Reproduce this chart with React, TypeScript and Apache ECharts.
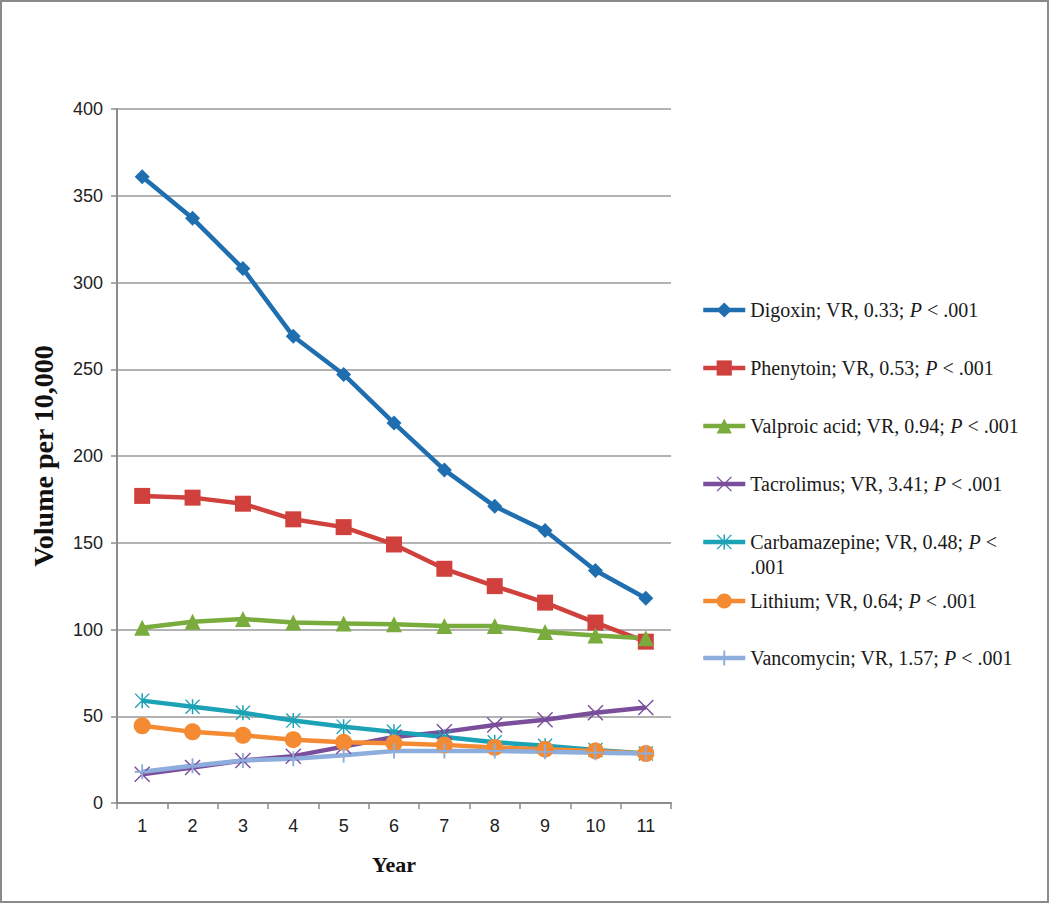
import React, { useEffect, useRef } from "react";
import * as echarts from "echarts";

const years = ["1", "2", "3", "4", "5", "6", "7", "8", "9", "10", "11"];
const yTicks = { min: 0, max: 400, interval: 50 };

const digoxin = [361, 337, 308, 269, 247, 219, 192, 171, 157, 134, 118];
const phenytoin = [177, 176, 172.5, 163.5, 159, 149, 135, 125, 115.5, 104, 93];
const valproic = [101, 104.5, 106, 104, 103.5, 103, 102, 102, 98.5, 96.5, 95];
const tacrolimus = [16.5, 20.5, 24.5, 27, 32.5, 38, 41, 45, 48, 52, 55];
const carbamazepine = [59, 55.5, 52, 47.5, 44, 41, 38, 35, 33, 30.5, 28.5];
const lithium = [44.5, 41, 39, 36.5, 35, 34.5, 33.5, 32, 31, 30, 28.5];
const vancomycin = [18, 21.5, 24.5, 25.5, 27.5, 30, 30, 30, 29.5, 29, 28.5];

const seriesNames = ["Digoxin", "Phenytoin", "Valproic acid", "Tacrolimus", "Carbamazepine", "Lithium", "Vancomycin"];
const legendLabels = [
  "Digoxin; VR, 0.33; {i|P} < .001",
  "Phenytoin; VR, 0.53; {i|P} < .001",
  "Valproic acid; VR, 0.94; {i|P} < .001",
  "Tacrolimus; VR, 3.41; {i|P} < .001",
  "Carbamazepine; VR, 0.48; {i|P} <\n.001",
  "Lithium; VR, 0.64; {i|P} < .001",
  "Vancomycin; VR, 1.57; {i|P} < .001",
];
const seriesData = [digoxin, phenytoin, valproic, tacrolimus, carbamazepine, lithium, vancomycin];
const colors = ["#1F6EB0", "#D0413D", "#79AC3C", "#7A4E9B", "#1BA2B6", "#F48A32", "#8DAEDC"];

const X_PATH = "path://M-7,-8 L8,7 L7,8 L-8,-7 Z M8,-7 L-7,8 L-8,7 L7,-8 Z";
const PLUS_PATH = "path://M-1,-8 L1,-8 L1,8 L-1,8 Z M-8,-1 L8,-1 L8,1 L-8,1 Z";
const STAR_PATH = "path://M-7,-8 L8,7 L7,8 L-8,-7 Z M8,-7 L-7,8 L-8,7 L7,-8 Z M-0.8,-8 L0.8,-8 L0.8,8 L-0.8,8 Z";
const symbols = ["diamond", "rect", "triangle", X_PATH, STAR_PATH, "circle", PLUS_PATH];
const symbolSizes = [15, 16, 16, 16, 15, 17, 15];
const legendCenters = [310, 368, 426, 484, 542, 601, 658];

const SERIF = "'Liberation Serif', 'Times New Roman', serif";
const SANS = "'Liberation Sans', Arial, sans-serif";

export default function App() {
  const ref = useRef<HTMLDivElement>(null);
  useEffect(() => {
    if (!ref.current) return;
    const chart = echarts.init(ref.current, undefined, { renderer: "svg" });
    const legends = seriesNames.map((name, i) => {
      const twoLine = legendLabels[i].includes("\n");
      return {
        data: [name],
        orient: "vertical",
        left: 701,
        top: twoLine ? legendCenters[i] - 37.5 : legendCenters[i] - 12,
        padding: 0,
        itemWidth: 42,
        itemHeight: 19,
        itemGap: 0,
        selectedMode: false,
        lineStyle: { width: 4.5 },
        formatter: () => legendLabels[i],
        textStyle: {
          fontFamily: SERIF,
          fontSize: 20,
          color: "#1a1a1a",
          lineHeight: twoLine ? 25 : 24,
          padding: twoLine ? [25, 0, 0, 0] : 0,
          rich: {
            i: { fontFamily: SERIF, fontSize: 20, fontStyle: "italic", color: "#1a1a1a", lineHeight: twoLine ? 25 : 24 },
          },
        },
      };
    });
    chart.setOption({
      animation: false,
      backgroundColor: "#ffffff",
      graphic: [
        {
          type: "rect",
          shape: { x: 1, y: 1, width: 1047, height: 901 },
          style: { fill: "none", stroke: "#8a8a8a", lineWidth: 2 },
          silent: true,
        },
      ],
      grid: { left: 117, right: 379, top: 109, bottom: 101 },
      legend: legends,
      xAxis: {
        type: "category",
        data: years,
        boundaryGap: true,
        name: "Year",
        nameLocation: "middle",
        nameGap: 50,
        nameTextStyle: { fontFamily: SERIF, fontSize: 22, fontWeight: "bold", color: "#111" },
        axisLine: { lineStyle: { color: "#8c8c8c", width: 2 } },
        axisTick: { show: true, length: 6, lineStyle: { color: "#8c8c8c", width: 1.5 } },
        axisLabel: { fontFamily: SANS, fontSize: 18, color: "#222", margin: 14 },
      },
      yAxis: {
        type: "value",
        min: yTicks.min,
        max: yTicks.max,
        interval: yTicks.interval,
        name: "Volume per 10,000",
        nameLocation: "middle",
        nameGap: 60,
        nameTextStyle: { fontFamily: SERIF, fontSize: 28, fontWeight: "bold", color: "#111" },
        axisLine: { show: true, lineStyle: { color: "#8c8c8c", width: 2 } },
        axisTick: { show: true, length: 6, lineStyle: { color: "#8c8c8c", width: 1.5 } },
        axisLabel: { fontFamily: SANS, fontSize: 18, color: "#222", margin: 14 },
        splitLine: { show: true, lineStyle: { color: "#9a9a9a", width: 1.5 } },
      },
      series: seriesNames.map((name, i) => ({
        name,
        type: "line",
        data: seriesData[i],
        symbol: symbols[i],
        symbolSize: symbolSizes[i],
        showAllSymbol: true,
        color: colors[i],
        lineStyle: { color: colors[i], width: 4.5 },
        itemStyle: { color: colors[i] },
      })),
    });
    return () => chart.dispose();
  }, []);
  return <div ref={ref} style={{ position: "absolute", left: 0, top: 0, width: 1050, height: 904 }} />;
}
